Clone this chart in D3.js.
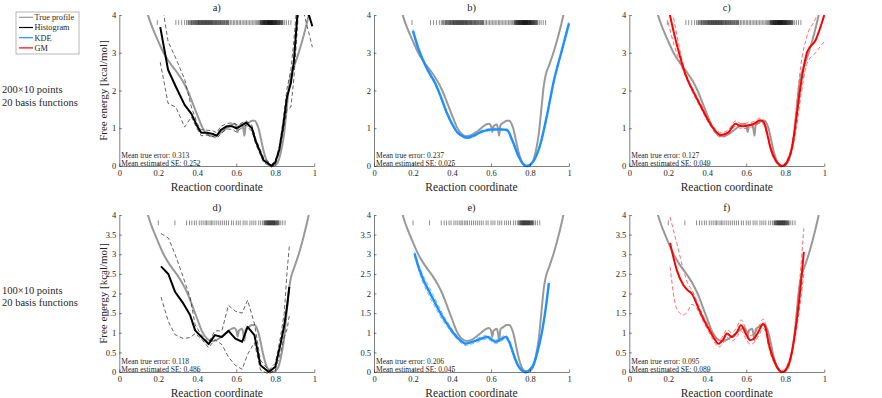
<!DOCTYPE html>
<html>
<head>
<meta charset="utf-8">
<script src="https://cdn.jsdelivr.net/npm/d3@7"></script>
<style>
  body { margin: 0; background: #fff; }
  svg text { font-family: 'Liberation Serif', 'Times New Roman', serif; fill: #262626; }
</style>
</head>
<body>
<div id="chart"></div>
<script>
// ---- data ----
var xTicks = [0, 0.2, 0.4, 0.6, 0.8, 1]
var yTicksTop = [0, 1, 2, 3, 4]
var yTicksBottom = [0, 0.5, 1, 1.5, 2, 2.5, 3, 3.5, 4]
var panelTitles = ['a)', 'b)', 'c)', 'd)', 'e)', 'f)']
var trueErrors = ['0.313', '0.237', '0.127', '0.118', '0.206', '0.095']
var estimatedSE = ['0,252', '0,025', '0,049', '0,486', '0,045', '0,089']
var rowLabels = [['200\u00d710 points', '20 basis functions'], ['100\u00d710 points', '20 basis functions']]
var legendNames = ['True profile', 'Histogram', 'KDE', 'GM']

// true free energy profile (same in every panel)
var trueX = [0.12, 0.13, 0.15, 0.175, 0.2, 0.225, 0.25, 0.275, 0.3, 0.325, 0.35, 0.375, 0.4, 0.425, 0.45, 0.475, 0.5, 0.525, 0.55, 0.575, 0.59, 0.6, 0.607, 0.613, 0.62, 0.63, 0.637, 0.642, 0.648, 0.655, 0.665, 0.68, 0.695, 0.705, 0.715, 0.725, 0.74, 0.755, 0.77, 0.785, 0.8, 0.815, 0.83, 0.845, 0.86, 0.87, 0.88, 0.9, 0.92, 0.94, 0.96, 0.98]
var trueY = [4.6, 4.35, 3.95, 3.6, 3.3, 3.02, 2.8, 2.62, 2.45, 2.25, 2.0, 1.68, 1.35, 1.03, 0.85, 0.79, 0.82, 0.9, 1.0, 1.1, 1.12, 1.06, 0.9, 1.05, 1.08, 1.1, 0.95, 0.8, 1.08, 1.12, 1.15, 1.2, 1.2, 1.12, 0.98, 0.75, 0.4, 0.15, 0.03, 0.0, 0.03, 0.12, 0.4, 0.85, 1.6, 2.1, 2.4, 2.7, 3.0, 3.35, 3.75, 4.2]

// sample positions (rug)
var rugTop = [0.195, 0.29, 0.305, 0.32, 0.335, 0.345, 0.352, 0.3555, 0.36, 0.366, 0.3685, 0.371, 0.3745, 0.378, 0.381, 0.384, 0.387, 0.39, 0.3925, 0.395, 0.398, 0.401, 0.4035, 0.406, 0.408, 0.41, 0.4125, 0.415, 0.4175, 0.42, 0.422, 0.424, 0.4265, 0.429, 0.431, 0.433, 0.4355, 0.438, 0.44, 0.442, 0.4445, 0.447, 0.449, 0.451, 0.4535, 0.456, 0.458, 0.46, 0.4625, 0.465, 0.4675, 0.47, 0.472, 0.474, 0.4765, 0.479, 0.4815, 0.484, 0.487, 0.49, 0.4925, 0.495, 0.4975, 0.5, 0.503, 0.506, 0.509, 0.512, 0.515, 0.518, 0.5205, 0.523, 0.5265, 0.53, 0.533, 0.536, 0.5395, 0.543, 0.5465, 0.55, 0.553, 0.556, 0.559, 0.562, 0.57, 0.577, 0.585, 0.592, 0.6, 0.607, 0.615, 0.622, 0.63, 0.638, 0.645, 0.652, 0.66, 0.667, 0.675, 0.682, 0.69, 0.697, 0.703, 0.709, 0.714, 0.72, 0.7215, 0.724, 0.7265, 0.728, 0.7305, 0.732, 0.734, 0.736, 0.7375, 0.739, 0.7405, 0.742, 0.7435, 0.745, 0.7465, 0.748, 0.7495, 0.751, 0.7525, 0.754, 0.7555, 0.757, 0.7585, 0.76, 0.761, 0.762, 0.7635, 0.765, 0.766, 0.767, 0.7685, 0.77, 0.771, 0.772, 0.7735, 0.775, 0.776, 0.777, 0.7785, 0.78, 0.781, 0.782, 0.7835, 0.785, 0.786, 0.787, 0.7885, 0.79, 0.7915, 0.793, 0.7945, 0.796, 0.7975, 0.799, 0.8005, 0.802, 0.8035, 0.805, 0.8065, 0.808, 0.81, 0.812, 0.814, 0.816, 0.818, 0.82, 0.822, 0.824, 0.8265, 0.829, 0.8315, 0.834, 0.837, 0.84, 0.848, 0.857, 0.868, 0.88]
var rugBottom = [0.2, 0.285, 0.345, 0.36, 0.372, 0.385, 0.395, 0.41, 0.42, 0.43, 0.44, 0.447, 0.455, 0.465, 0.472, 0.48, 0.49, 0.5, 0.51, 0.52, 0.53, 0.54, 0.55, 0.56, 0.575, 0.585, 0.6, 0.61, 0.62, 0.635, 0.645, 0.655, 0.67, 0.68, 0.69, 0.7, 0.715, 0.725, 0.735, 0.742, 0.744, 0.748, 0.7505, 0.753, 0.7555, 0.758, 0.76, 0.762, 0.764, 0.766, 0.768, 0.77, 0.772, 0.774, 0.776, 0.778, 0.78, 0.782, 0.784, 0.786, 0.788, 0.79, 0.792, 0.794, 0.796, 0.798, 0.8005, 0.803, 0.8055, 0.808, 0.8105, 0.813, 0.8165, 0.82, 0.828, 0.838, 0.85]

// a) histogram, 200x10
var histAX = [0.21, 0.25, 0.29, 0.335, 0.37, 0.4, 0.42, 0.45, 0.48, 0.5, 0.52, 0.55, 0.58, 0.6, 0.62, 0.65, 0.68, 0.7, 0.72, 0.74, 0.76, 0.78, 0.8, 0.82, 0.84, 0.86, 0.88, 0.895, 0.925, 0.99]
var histAY = [3.68, 2.55, 2.1, 1.62, 1.38, 1.05, 0.88, 0.88, 0.85, 0.8, 0.95, 1.05, 1.05, 1.0, 1.05, 1.15, 1.0, 0.65, 0.4, 0.15, 0.08, 0.0, 0.1, 0.42, 1.05, 1.83, 2.2, 2.76, 4.8, 3.7]
var histAHi = [4.6, 3.3, 2.85, 2.3, 1.56, 1.12, 0.96, 0.95, 0.93, 0.88, 1.05, 1.12, 1.15, 1.1, 1.12, 1.2, 1.08, 0.72, 0.47, 0.22, 0.13, 0.04, 0.14, 0.5, 1.2, 2.05, 2.55, 3.3, 5.2, 4.6]
var histALo = [2.75, 1.66, 1.56, 1.03, 1.3, 0.98, 0.8, 0.82, 0.78, 0.73, 0.85, 0.98, 0.97, 0.9, 0.98, 1.08, 0.92, 0.58, 0.33, 0.1, 0.03, -0.03, 0.04, 0.35, 0.9, 1.5, 1.56, 2.3, 4.5, 3.15]

// b) KDE, 200x10
var kdeBX = [0.2, 0.225, 0.255, 0.285, 0.315, 0.345, 0.375, 0.4, 0.426, 0.45, 0.478, 0.51, 0.546, 0.58, 0.614, 0.65, 0.683, 0.709, 0.743, 0.765, 0.785, 0.805, 0.82, 0.854, 0.889, 0.923, 0.96, 1.0]
var kdeBY = [3.58, 3.15, 2.76, 2.45, 2.18, 1.8, 1.39, 1.12, 0.9, 0.8, 0.75, 0.8, 0.9, 0.95, 0.97, 0.97, 0.95, 0.68, 0.24, 0.05, 0.0, 0.05, 0.15, 0.59, 1.39, 2.27, 3.0, 3.78]
var kdeBHi = [3.62, 3.19, 2.8, 2.49, 2.22, 1.84, 1.43, 1.15, 0.93, 0.83, 0.78, 0.83, 0.93, 0.98, 1.0, 1.0, 0.98, 0.71, 0.27, 0.07, 0.02, 0.07, 0.18, 0.63, 1.43, 2.31, 3.04, 3.82]
var kdeBLo = [3.54, 3.11, 2.72, 2.41, 2.14, 1.76, 1.35, 1.09, 0.87, 0.77, 0.72, 0.77, 0.87, 0.92, 0.94, 0.94, 0.92, 0.65, 0.21, 0.03, -0.02, 0.03, 0.12, 0.55, 1.35, 2.23, 2.96, 3.74]

// c) GM, 200x10
var gmCX = [0.2, 0.23, 0.26, 0.29, 0.33, 0.36, 0.39, 0.42, 0.47, 0.51, 0.544, 0.575, 0.604, 0.64, 0.671, 0.69, 0.705, 0.723, 0.75, 0.784, 0.81, 0.835, 0.855, 0.878, 0.912, 0.955, 1.0]
var gmCY = [4.2, 3.5, 2.9, 2.4, 1.95, 1.65, 1.35, 1.08, 0.82, 0.9, 1.12, 1.05, 1.07, 1.12, 1.21, 1.15, 0.9, 0.5, 0.15, 0.0, 0.12, 0.5, 1.2, 2.1, 3.02, 3.33, 4.0]
var gmCHi = [4.6, 3.85, 3.05, 2.45, 2.0, 1.71, 1.41, 1.13, 0.88, 0.97, 1.19, 1.12, 1.14, 1.18, 1.27, 1.21, 0.96, 0.55, 0.19, 0.03, 0.17, 0.6, 1.45, 2.6, 3.45, 3.9, 4.5]
var gmCLo = [3.8, 3.2, 2.75, 2.35, 1.9, 1.6, 1.3, 1.03, 0.76, 0.84, 1.05, 0.99, 1.0, 1.06, 1.14, 1.09, 0.84, 0.45, 0.11, -0.03, 0.07, 0.4, 0.95, 1.8, 2.72, 3.0, 3.3]

// d) histogram, 100x10
var histDX = [0.214, 0.252, 0.286, 0.329, 0.363, 0.389, 0.42, 0.458, 0.49, 0.526, 0.56, 0.595, 0.63, 0.658, 0.693, 0.724, 0.766, 0.8, 0.827, 0.846, 0.861, 0.872]
var histDY = [2.69, 2.49, 2.04, 1.74, 1.45, 1.06, 0.9, 0.71, 0.94, 0.89, 1.05, 0.85, 0.77, 1.15, 0.94, 0.17, 0.0, 0.13, 0.72, 1.19, 1.7, 2.17]
var histDHi = [3.53, 3.41, 3.0, 2.4, 1.9, 1.2, 0.95, 0.75, 1.05, 1.05, 1.7, 1.55, 1.5, 1.83, 1.23, 0.3, 0.05, 0.22, 0.9, 1.5, 2.6, 3.2]
var histDLo = [1.91, 1.28, 0.95, 0.85, 0.88, 0.98, 0.85, 0.62, 0.82, 0.7, 0.38, 0.17, 0.07, 0.45, 0.75, 0.05, -0.05, 0.05, 0.5, 0.9, 1.1, 1.45]

// e) KDE, 100x10
var kdeEX = [0.208, 0.23, 0.254, 0.28, 0.306, 0.33, 0.357, 0.385, 0.409, 0.44, 0.469, 0.5, 0.529, 0.555, 0.58, 0.6, 0.623, 0.65, 0.675, 0.695, 0.709, 0.725, 0.743, 0.76, 0.777, 0.8, 0.82, 0.84, 0.863, 0.88, 0.897]
var kdeEY = [3.02, 2.65, 2.34, 2.08, 1.83, 1.6, 1.36, 1.15, 0.98, 0.82, 0.72, 0.76, 0.81, 0.86, 0.89, 0.84, 0.77, 0.83, 0.89, 0.75, 0.55, 0.32, 0.13, 0.04, 0.0, 0.06, 0.21, 0.55, 1.06, 1.6, 2.27]
var kdeEHi = [3.07, 2.72, 2.44, 2.19, 1.94, 1.7, 1.44, 1.21, 1.03, 0.87, 0.77, 0.81, 0.86, 0.91, 0.94, 0.89, 0.82, 0.88, 0.94, 0.8, 0.6, 0.37, 0.17, 0.07, 0.03, 0.09, 0.25, 0.6, 1.11, 1.65, 2.32]
var kdeELo = [2.97, 2.58, 2.24, 1.97, 1.72, 1.5, 1.28, 1.09, 0.93, 0.77, 0.67, 0.71, 0.76, 0.81, 0.84, 0.79, 0.72, 0.78, 0.84, 0.7, 0.5, 0.27, 0.09, 0.01, -0.03, 0.03, 0.17, 0.5, 1.01, 1.55, 2.22]

// f) GM, 100x10
var gmFX = [0.209, 0.244, 0.278, 0.3, 0.32, 0.355, 0.38, 0.406, 0.43, 0.458, 0.48, 0.501, 0.526, 0.55, 0.573, 0.6, 0.62, 0.646, 0.665, 0.686, 0.7, 0.715, 0.749, 0.784, 0.818, 0.852, 0.875, 0.895]
var gmFY = [3.29, 2.59, 2.21, 2.08, 2.0, 1.62, 1.35, 1.11, 0.9, 0.72, 0.82, 0.98, 0.89, 1.0, 1.19, 0.95, 0.81, 0.89, 1.05, 1.23, 1.1, 0.72, 0.21, 0.0, 0.21, 1.06, 2.0, 3.06]
var gmFHi = [3.95, 3.27, 2.6, 2.25, 2.1, 1.7, 1.42, 1.18, 0.98, 0.8, 0.92, 1.08, 1.0, 1.13, 1.33, 1.07, 0.93, 1.0, 1.17, 1.35, 1.2, 0.8, 0.26, 0.04, 0.27, 1.2, 2.4, 3.66]
var gmFLo = [2.68, 1.6, 1.45, 1.55, 1.72, 1.55, 1.28, 1.03, 0.82, 0.64, 0.72, 0.88, 0.79, 0.88, 1.05, 0.83, 0.7, 0.78, 0.94, 1.11, 1.0, 0.64, 0.16, -0.03, 0.15, 0.92, 1.7, 2.5]

// ---- styles ----
var colors = {gray: 'rgb(153,153,153)', hist: '#000', kde: 'rgb(30,144,255)', gm: 'rgb(255,0,0)'}
var bandColors = {hist: '#222', kde: 'rgb(110,180,255)', gm: 'rgb(255,90,90)'}

var panels = [
  {x: histAX, y: histAY, hi: histAHi, lo: histALo, kind: 'hist', row: 0, col: 0},
  {x: kdeBX, y: kdeBY, hi: kdeBHi, lo: kdeBLo, kind: 'kde', row: 0, col: 1},
  {x: gmCX, y: gmCY, hi: gmCHi, lo: gmCLo, kind: 'gm', row: 0, col: 2},
  {x: histDX, y: histDY, hi: histDHi, lo: histDLo, kind: 'hist', row: 1, col: 0},
  {x: kdeEX, y: kdeEY, hi: kdeEHi, lo: kdeELo, kind: 'kde', row: 1, col: 1},
  {x: gmFX, y: gmFY, hi: gmFHi, lo: gmFLo, kind: 'gm', row: 1, col: 2},
]

var width = 882, height = 398
var colLeft = [119.3, 374, 629.3]
var axW = 195
var rowTop = [15, 215], rowBottom = [166, 372]

var svg = d3.select('#chart').append('svg')
  .attr('width', width).attr('height', height)

panels.forEach((p, i) => {
  var left = colLeft[p.col], top = rowTop[p.row], bottom = rowBottom[p.row]
  var x = d3.scaleLinear().domain([0, 1]).range([left, left + axW])
  var y = d3.scaleLinear().domain([0, 4]).range([bottom, top])
  var g = svg.append('g')

  var clipId = 'clip' + i
  g.append('clipPath').attr('id', clipId).append('rect')
    .attr('x', left).attr('y', top).attr('width', axW + 1).attr('height', bottom - top + 2)
  var plot = g.append('g').attr('clip-path', 'url(#' + clipId + ')')

  var smooth = p.kind == 'hist' ? d3.curveLinear : d3.curveMonotoneX
  var line = (xs, ys, curve) => d3.line().curve(curve)
    .x((d, k) => x(xs[k])).y((d, k) => y(ys[k]))(xs)

  // true profile
  plot.append('path')
    .attr('d', line(trueX, trueY, d3.curveMonotoneX))
    .attr('fill', 'none').attr('stroke', colors.gray).attr('stroke-width', 2)

  // error bounds
  ;[p.hi, p.lo].forEach(b => {
    plot.append('path')
      .attr('d', line(p.x, b, smooth))
      .attr('fill', 'none').attr('stroke', bandColors[p.kind])
      .attr('stroke-width', p.kind == 'hist' ? 0.7 : 0.9)
      .attr('stroke-dasharray', '4,2.5')
  })

  // estimate
  plot.append('path')
    .attr('d', line(p.x, p.y, smooth))
    .attr('fill', 'none').attr('stroke', colors[p.kind])
    .attr('stroke-width', p.kind == 'kde' ? 2.4 : 2)
    .attr('stroke-linejoin', 'round')

  // rug of sample positions
  var rug = p.row == 0 ? rugTop : rugBottom
  g.append('g').selectAll('line').data(rug).join('line')
    .attr('x1', d => x(d)).attr('x2', d => x(d))
    .attr('y1', y(3.8) - 2.4).attr('y2', y(3.8) + 2.4)
    .attr('stroke', '#000').attr('stroke-opacity', 0.5).attr('stroke-width', 0.9)

  // axes
  var xAxis = d3.axisBottom(x).tickValues(xTicks).tickFormat(d => d)
    .tickSize(-2.5).tickSizeOuter(0).tickPadding(3.5)
  var yAxis = d3.axisLeft(y).tickValues(p.row == 0 ? yTicksTop : yTicksBottom).tickFormat(d => d)
    .tickSize(-2.5).tickSizeOuter(0).tickPadding(3)
  var gx = g.append('g').attr('transform', `translate(0,${bottom})`).call(xAxis)
  var gy = g.append('g').attr('transform', `translate(${left},0)`).call(yAxis)
  ;[gx, gy].forEach(a => {
    a.selectAll('path,line').attr('stroke', '#262626').attr('stroke-width', 0.6)
    a.selectAll('text').style('font-size', '8.5px').attr('fill', '#262626')
  })

  // titles and labels
  g.append('text').text(panelTitles[i])
    .attr('x', left + axW / 2).attr('y', top - 4)
    .attr('text-anchor', 'middle').style('font-size', '10.5px')

  g.append('text').text('Reaction coordinate')
    .attr('x', left + axW / 2).attr('y', bottom + 25)
    .attr('text-anchor', 'middle').style('font-size', '11.5px')

  if (p.col == 0) {
    g.append('text').text('Free energy [kcal/mol]')
      .attr('transform', `translate(${left - 12},${(top + bottom) / 2}) rotate(-90)`)
      .attr('text-anchor', 'middle').style('font-size', '11px')
  }

  g.append('text').text('Mean true error: ' + trueErrors[i])
    .attr('x', left + 2).attr('y', bottom - 8.5).style('font-size', '7.5px')
  g.append('text').text('Mean estimated SE: ' + estimatedSE[i])
    .attr('x', left + 2).attr('y', bottom - 0.5).style('font-size', '7.5px')
})

// row descriptions
var rowLabelY = [[93, 105.5], [294, 306]]
rowLabels.forEach((lines, r) => {
  lines.forEach((t, k) => {
    svg.append('text').text(t).attr('x', 2).attr('y', rowLabelY[r][k]).style('font-size', '10.5px')
  })
})

// legend
var legendColors = [colors.gray, colors.hist, colors.kde, colors.gm]
var lg = svg.append('g')
lg.append('rect').attr('x', 16).attr('y', 12).attr('width', 63).attr('height', 42)
  .attr('fill', '#fff').attr('stroke', '#888').attr('stroke-width', 0.6)
legendNames.forEach((name, k) => {
  var cy = 17.3 + k * 10.2
  lg.append('line').attr('x1', 19).attr('x2', 33).attr('y1', cy).attr('y2', cy)
    .attr('stroke', legendColors[k]).attr('stroke-width', 1.2)
  lg.append('text').text(name).attr('x', 34.5).attr('y', cy + 2.8).style('font-size', '8.3px')
})
</script>
</body>
</html>
